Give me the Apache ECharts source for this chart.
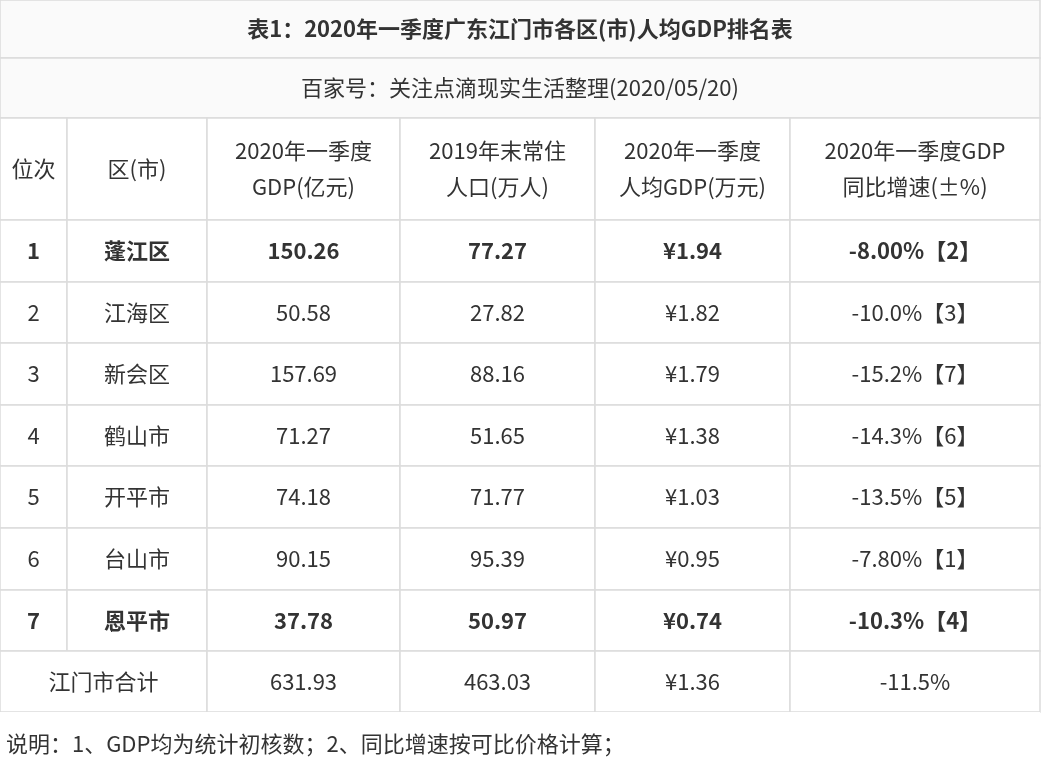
<!DOCTYPE html>
<html><head><meta charset="utf-8">
<script src="https://cdn.jsdelivr.net/npm/echarts@6/dist/echarts.min.js"></script>
<style>html,body{margin:0;padding:0;background:#fff}#c{width:1046px;height:776px}</style>
</head><body><div id="c"></div>
<script>
var title = '表1：2020年一季度广东江门市各区(市)人均GDP排名表'
var subtitle = '百家号：关注点滴现实生活整理(2020/05/20)'
var note = '说明：1、GDP均为统计初核数；2、同比增速按可比价格计算；'
var headers = ['位次', '区(市)', '2020年一季度\nGDP(亿元)', '2019年末常住\n人口(万人)', '2020年一季度\n人均GDP(万元)', '2020年一季度GDP\n同比增速(±%)']
var ranks = ['1', '2', '3', '4', '5', '6', '7']
var districts = ['蓬江区', '江海区', '新会区', '鹤山市', '开平市', '台山市', '恩平市']
var gdp = ['150.26', '50.58', '157.69', '71.27', '74.18', '90.15', '37.78']
var population = ['77.27', '27.82', '88.16', '51.65', '71.77', '95.39', '50.97']
var perCapita = ['¥1.94', '¥1.82', '¥1.79', '¥1.38', '¥1.03', '¥0.95', '¥0.74']
var growth = ['-8.00%【2】', '-10.0%【3】', '-15.2%【7】', '-14.3%【6】', '-13.5%【5】', '-7.80%【1】', '-10.3%【4】']
var boldRows = [0, 6]
var total = ['江门市合计', '631.93', '463.03', '¥1.36', '-11.5%']

// layout only
var colEdges = [0, 67, 207, 400, 595, 790, 1040]
var rowEdges = [0, 58, 118, 220, 282, 343, 405, 466, 528, 590, 651, 712, 776]

// cells: [c0, c1, r0, r1, text, bold, align, size, bg, border]
var cells = []
cells.push([0, 6, 0, 1, title, true, 'center', 22, '#fafafa', true])
cells.push([0, 6, 1, 2, subtitle, false, 'center', 22, '#fafafa', true])
headers.forEach(function (h, i) { cells.push([i, i + 1, 2, 3, h, false, 'center', 22, '#fff', true]) })
ranks.forEach(function (r, i) {
  var b = boldRows.indexOf(i) >= 0
  var row = [r, districts[i], gdp[i], population[i], perCapita[i], growth[i]]
  row.forEach(function (t, c) { cells.push([c, c + 1, 3 + i, 4 + i, t, b, 'center', 22, '#fff', true]) })
})
cells.push([0, 2, 10, 11, total[0], false, 'center', 22, '#fff', true])
for (var k = 1; k < total.length; k++) cells.push([k + 1, k + 2, 10, 11, total[k], false, 'center', 22, '#fff', true])
cells.push([0, 6, 11, 12, note, false, 'left', 22, '#fff', false])

var data = cells.map(function (c) {
  return [colEdges[c[0]], rowEdges[c[2]], colEdges[c[1]], rowEdges[c[3]], c[4], c[5] ? 1 : 0, c[6], c[7], c[8], c[9] ? 1 : 0]
})

var chart = echarts.init(document.getElementById('c'))
chart.setOption({
  backgroundColor: '#fff',
  animation: false,
  grid: { left: 0, right: 0, top: 0, bottom: 0 },
  xAxis: { type: 'value', min: 0, max: 1046, show: false },
  yAxis: { type: 'value', min: 0, max: 776, inverse: true, show: false },
  series: [{
    type: 'custom',
    data: data,
    renderItem: function (params, api) {
      var d = data[params.dataIndex]
      var p0 = api.coord([d[0], d[1]])
      var p1 = api.coord([d[2], d[3]])
      var w = p1[0] - p0[0], h = p1[1] - p0[1]
      var left = d[6] === 'left'
      return {
        type: 'group',
        children: [{
          type: 'rect',
          shape: { x: p0[0], y: p0[1], width: w, height: h },
          style: { fill: d[8], stroke: d[9] ? '#dcdcdc' : null, lineWidth: 1.5 }
        }, {
          type: 'text',
          style: {
            x: left ? p0[0] + 6 : p0[0] + w / 2,
            y: p0[1] + h / 2,
            text: d[4],
            align: left ? 'left' : 'center',
            verticalAlign: 'middle',
            fill: '#333',
            font: (d[5] ? 'bold ' : '') + d[7] + 'px "Noto Sans CJK SC", sans-serif',
            lineHeight: 36
          }
        }]
      }
    }
  }]
})
</script></body></html>
